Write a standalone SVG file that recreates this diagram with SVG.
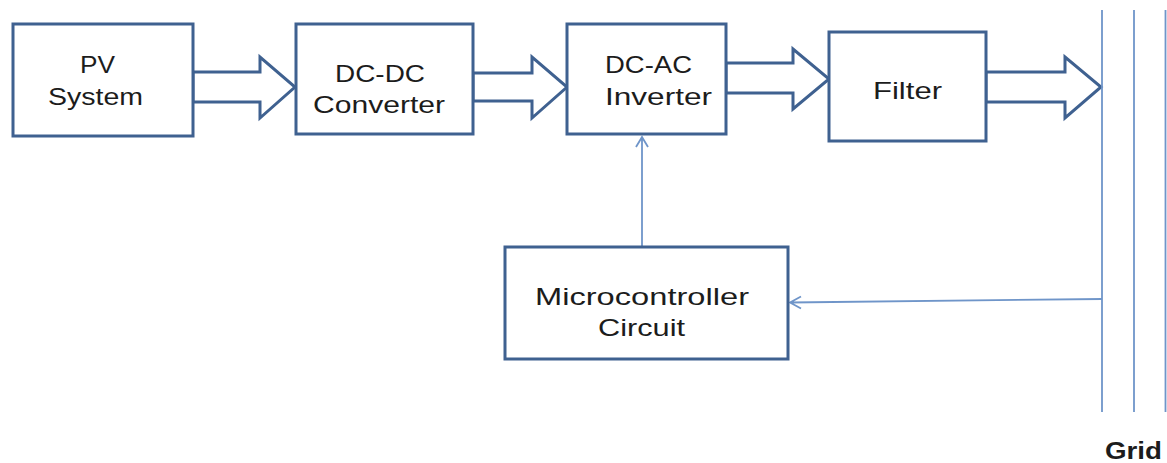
<svg xmlns="http://www.w3.org/2000/svg" width="1167" height="463" viewBox="0 0 1167 463">
<style>
.box{fill:#fff;stroke:#3f6190;stroke-width:3}
.big{fill:#fff;stroke:#3f6190;stroke-width:3;stroke-linejoin:miter}
.thin{fill:none;stroke:#6f95c9;stroke-width:1.8}
.t{font-family:"Liberation Sans",Arial,sans-serif;font-size:24px;fill:#1c1c1c;text-anchor:middle}
.b{font-weight:bold}
</style>
<rect width="1167" height="463" fill="#fff"/>
<g id="connectors">
<path class="big" d="M193,72 H260 V57 L295,87 L260,118 V102 H193 Z"/>
<path class="big" d="M473,73 H532 V57 L567,87 L532,118 V101 H473 Z"/>
<path class="big" d="M726,63 H793 V49 L829,79 L793,109 V93 H726 Z"/>
<path class="big" d="M986,72 H1065 V57 L1101,87 L1065,118 V102 H986 Z"/>
<path class="thin" d="M642,247 V137 M636,147 L642,137 L648,147"/>
<path class="thin" d="M1102,299 L790,302.5 M801,296.5 L790,302.5 L801,308.5"/>
</g>
<g id="grid">
<path class="thin" d="M1102,10 V412 M1134,10 V412 M1165.5,10 V412"/>
<text class="t b" x="1133.5" y="459" textLength="57" lengthAdjust="spacingAndGlyphs">Grid</text>
</g>
<g id="pv">
<rect class="box" x="13" y="24" width="180" height="112"/>
<text class="t" x="97.5" y="73" textLength="35" lengthAdjust="spacingAndGlyphs">PV</text>
<text class="t" x="95.5" y="105" textLength="95" lengthAdjust="spacingAndGlyphs">System</text>
</g>
<g id="dcdc">
<rect class="box" x="296" y="24" width="177" height="110"/>
<text class="t" x="380" y="82" textLength="90" lengthAdjust="spacingAndGlyphs">DC-DC</text>
<text class="t" x="379" y="113" textLength="132" lengthAdjust="spacingAndGlyphs">Converter</text>
</g>
<g id="dcac">
<rect class="box" x="567" y="24" width="159" height="110"/>
<text class="t" x="648.5" y="73" textLength="87" lengthAdjust="spacingAndGlyphs">DC-AC</text>
<text class="t" x="658.5" y="105" textLength="107" lengthAdjust="spacingAndGlyphs">Inverter</text>
</g>
<g id="filter">
<rect class="box" x="829" y="32" width="157" height="109"/>
<text class="t" x="907.5" y="99" textLength="69" lengthAdjust="spacingAndGlyphs">Filter</text>
</g>
<g id="micro">
<rect class="box" x="505" y="247" width="283" height="112"/>
<text class="t" x="642" y="305" textLength="214" lengthAdjust="spacingAndGlyphs">Microcontroller</text>
<text class="t" x="641.5" y="336" textLength="87" lengthAdjust="spacingAndGlyphs">Circuit</text>
</g>
</svg>
